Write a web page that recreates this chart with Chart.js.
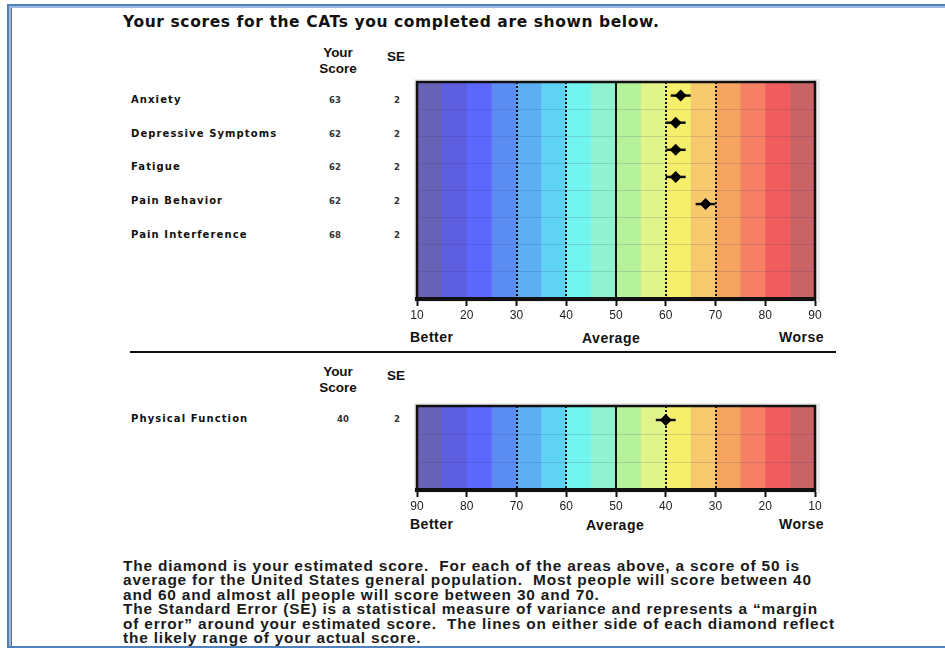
<!DOCTYPE html>
<html lang="en">
<head>
    <meta charset="UTF-8">
    <title>CAT Scores</title>
    <script src="https://cdn.jsdelivr.net/npm/chart.js"></script>
    <style>
        body { margin: 0; width: 945px; height: 650px; background: #fff; position: relative; overflow: hidden; }
        .t { position: absolute; white-space: pre; color: #111; line-height: 1; }
        .frame { position: absolute; left: 7px; top: 4px; width: 960px; height: 640px;
                 border: 2px solid #4f81bd; box-shadow: inset 2px 2px 0 #9db8dc, inset 3px 0 0 #6a6a6a; }
        .head { font: bold 13.5px "Liberation Sans", Arial, sans-serif; }
        .row { font: bold 10px "DejaVu Sans", sans-serif; letter-spacing: 1.1px; }
        .num { font: bold 8.5px "DejaVu Sans", sans-serif; color: #333; }
        .axl { font: bold 14px "Liberation Sans", Arial, sans-serif; letter-spacing: 0.5px; }
        .para { font: bold 14px "Liberation Sans", Arial, sans-serif; letter-spacing: 0.75px; color: #1a1a1a;
                transform: scaleX(1.1); transform-origin: left top; }
        canvas { position: absolute; }
    </style>
</head>
<body>
    <div class="frame"></div>

    <div class="t" style="left:123px; top:13px; font: bold 15.5px 'DejaVu Sans', sans-serif; letter-spacing: 0.6px;">Your scores for the CATs you completed are shown below.</div>

    <div id="labels"></div>

    <div style="position:absolute; left:130px; top:351px; width:706px; height:2px; background:#111;"></div>

    <canvas id="topChart" style="left:400px; top:75px;" width="430" height="248"></canvas>
    <canvas id="bottomChart" style="left:400px; top:399px;" width="430" height="115"></canvas>

    <div class="t axl" style="left:410px; top:329px;">Better</div>
    <div class="t axl" style="left:582px; top:330px;">Average</div>
    <div class="t axl" style="left:779px; top:329px;">Worse</div>

    <div class="t axl" style="left:410px; top:516px;">Better</div>
    <div class="t axl" style="left:586px; top:517px;">Average</div>
    <div class="t axl" style="left:779px; top:516px;">Worse</div>

    <div class="t para" style="left:123px; top:558px;">The diamond is your estimated score.  For each of the areas above, a score of 50 is</div>
    <div class="t para" style="left:123px; top:572px;">average for the United States general population.  Most people will score between 40</div>
    <div class="t para" style="left:123px; top:587px;">and 60 and almost all people will score between 30 and 70.</div>
    <div class="t para" style="left:123px; top:601px;">The Standard Error (SE) is a statistical measure of variance and represents a “margin</div>
    <div class="t para" style="left:123px; top:616px;">of error” around your estimated score.  The lines on either side of each diamond reflect</div>
    <div class="t para" style="left:123px; top:630px;">the likely range of your actual score.</div>

    <script>
        // top chart data
        const topRows = ['Anxiety', 'Depressive Symptoms', 'Fatigue', 'Pain Behavior', 'Pain Interference', 'row6', 'row7', 'row8'];
        const topScores = [63, 62, 62, 62, 68];
        const topSE = [2, 2, 2, 2, 2];

        // bottom chart data
        const bottomRows = ['Physical Function', 'row2', 'row3'];
        const bottomScores = [40];
        const bottomSE = [2];

        // scale, bands and reference lines
        const xTicks = [10, 20, 30, 40, 50, 60, 70, 80, 90];
        const bandStops = [10, 15, 20, 25, 30, 35, 40, 45, 50, 55, 60, 65, 70, 75, 80, 85, 90];
        const bandColors = ['#6762b6', '#5d5ee0', '#5b68fb', '#5c8df3', '#5eaef4', '#60d3f4', '#72f4ef', '#90f2d0',
                            '#b6f19c', '#e1f38b', '#f6ef6c', '#f5c96c', '#f5a462', '#f58063', '#f15c5e', '#c96466'];
        const refLines = [30, 40, 50, 60, 70];
        const refDashed = [true, true, false, true, true];

        // row text beside the charts
        const topLabelY = [99, 133, 166, 200, 234];
        const labelsBox = document.getElementById('labels');
        function addText(cls, text, left, top, center) {
            const d = document.createElement('div');
            d.className = 't ' + cls;
            d.textContent = text;
            d.style.left = left + 'px';
            d.style.top = top + 'px';
            if (center) d.style.transform = 'translateX(-50%)';
            labelsBox.appendChild(d);
        }
        function addHeader(y) {
            addText('head', 'Your', 338, y, true);
            addText('head', 'Score', 338, y + 16, true);
            addText('head', 'SE', 396, y + 4, true);
        }
        addHeader(45);
        topScores.forEach((s, i) => {
            addText('row', topRows[i], 131, topLabelY[i] - 5);
            addText('num', String(s), 335, topLabelY[i] - 4, true);
            addText('num', String(topSE[i]), 397, topLabelY[i] - 4, true);
        });
        addHeader(364);
        addText('row', bottomRows[0], 131, 413);
        addText('num', String(bottomScores[0]), 343, 414, true);
        addText('num', String(bottomSE[0]), 397, 414, true);

        const bandsPlugin = {
            id: 'bands',
            beforeDraw(chart) {
                const { ctx, chartArea: a, scales: { x } } = chart;
                const bands = [];
                for (let i = 0; i < bandStops.length - 1; i++) {
                    const p0 = x.getPixelForValue(bandStops[i]);
                    const p1 = x.getPixelForValue(bandStops[i + 1]);
                    bands.push([Math.min(p0, p1), Math.max(p0, p1)]);
                }
                bands.sort((m, n) => m[0] - n[0]);
                ctx.save();
                // soft grey halo round the plot box
                ctx.fillStyle = '#ececec';
                ctx.fillRect(a.left - 3, a.top - 3, a.right - a.left + 8, a.bottom - a.top + 6);
                bands.forEach((b, k) => {
                    ctx.fillStyle = bandColors[k];
                    ctx.fillRect(b[0], a.top, b[1] - b[0] + 0.5, a.bottom - a.top);
                });
                ctx.restore();
            },
            beforeDatasetsDraw(chart) {
                const { ctx, chartArea: a, scales: { x, y } } = chart;
                ctx.save();
                ctx.strokeStyle = '#111';
                refLines.forEach((v, i) => {
                    const px = Math.round(x.getPixelForValue(v));
                    ctx.lineWidth = 2;
                    ctx.setLineDash(refDashed[i] ? [2, 2] : []);
                    ctx.beginPath();
                    ctx.moveTo(px, a.top);
                    ctx.lineTo(px, a.bottom);
                    ctx.stroke();
                });
                ctx.setLineDash([]);
                // error bars: score +/- SE
                const pts = chart.data.datasets[0].data;
                ctx.lineWidth = 2.5;
                pts.forEach(p => {
                    const py = y.getPixelForValue(y.getLabels().indexOf(p.y));
                    ctx.beginPath();
                    ctx.moveTo(x.getPixelForValue(p.x - p.se), py);
                    ctx.lineTo(x.getPixelForValue(p.x + p.se), py);
                    ctx.stroke();
                });
                ctx.restore();
            },
            afterDraw(chart) {
                const { ctx, chartArea: a } = chart;
                ctx.save();
                ctx.strokeStyle = '#111';
                ctx.lineWidth = 2.5;
                ctx.strokeRect(a.left, a.top, a.right - a.left, a.bottom - a.top);
                ctx.restore();
            }
        };

        function makeChart(id, rows, scores, se, reverse) {
            const points = scores.map((s, i) => ({ x: s, y: rows[i], se: se[i] }));
            return new Chart(document.getElementById(id), {
                type: 'scatter',
                data: {
                    datasets: [{
                        data: points,
                        pointStyle: 'rectRot',
                        pointRadius: 6,
                        backgroundColor: '#000',
                        borderColor: '#000',
                        borderWidth: 0
                    }]
                },
                options: {
                    responsive: false,
                    animation: false,
                    layout: { padding: { left: 17, right: 15, top: 7, bottom: 0 } },
                    plugins: { legend: { display: false }, tooltip: { enabled: false } },
                    scales: {
                        x: {
                            type: 'linear',
                            min: 10,
                            max: 90,
                            reverse: reverse,
                            afterBuildTicks: s => { s.ticks = xTicks.map(v => ({ value: v })); },
                            afterFit: s => { s.height = 24; },
                            grid: { drawOnChartArea: false, tickLength: 7, tickColor: '#111', tickWidth: 2 },
                            border: { display: true, width: 4, color: '#111' },
                            ticks: {
                                padding: 2,
                                color: '#222',
                                font: { family: "'Liberation Sans Narrow', 'Liberation Sans', sans-serif", size: 12 }
                            }
                        },
                        y: {
                            type: 'category',
                            labels: rows,
                            offset: true,
                            afterFit: s => { s.width = 0; },
                            grid: { offset: true, drawTicks: false, color: 'rgba(50,50,110,0.16)', lineWidth: 1 },
                            border: { display: false },
                            ticks: { display: false }
                        }
                    }
                },
                plugins: [bandsPlugin]
            });
        }

        makeChart('topChart', topRows, topScores, topSE, false);
        makeChart('bottomChart', bottomRows, bottomScores, bottomSE, true);
    </script>
</body>
</html>
